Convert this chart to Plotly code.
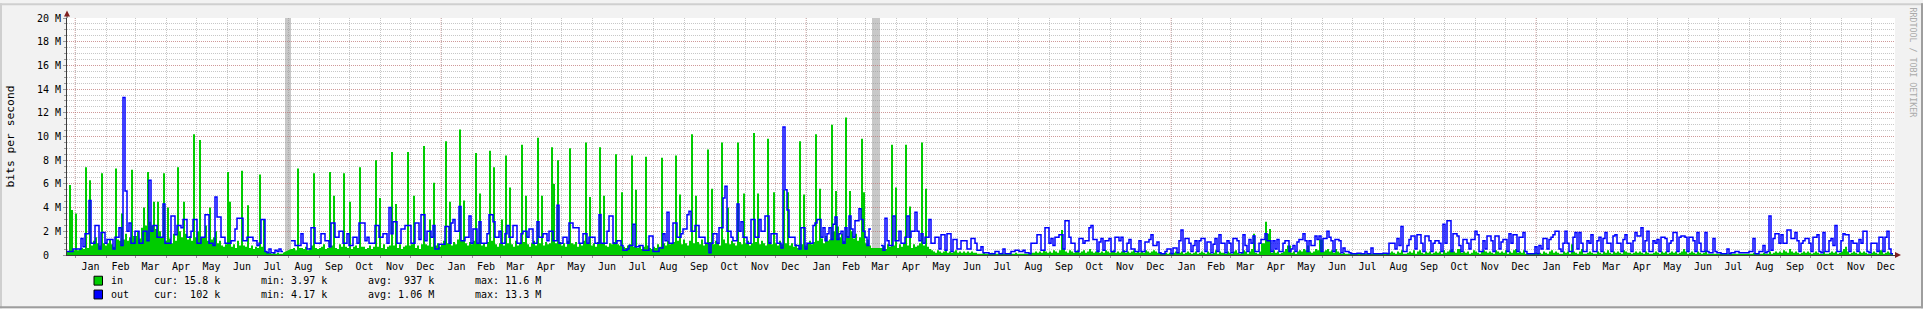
import pandas as pd
import plotly.graph_objects as go

# ---------------- data (values in Mbit/s, one value per 2-day step) ----------------
START = "2007-12-24"
END = "2012-12-25"
STEP = "2D"

in_seg1 = [
    0.3, 5.9, 3.8, 0.4, 3.5, 0.4, 0.5, 0.6, 0.5, 7.4,
    0.6, 6.3, 0.8, 1.2, 1.5, 1.0, 0.8, 6.9, 1.0, 0.8,
    1.0, 1.3, 0.9, 0.7, 7.3, 1.3, 1.2, 3.5, 1.3, 1.8,
    1.2, 1.5, 7.2, 1.6, 1.6, 2.0, 1.4, 2.3, 4.0, 2.5,
    7.0, 2.8, 2.5, 4.5, 2.2, 4.5, 2.0, 1.5, 6.9, 1.2,
    4.0, 1.4, 1.0, 1.8, 1.2, 7.4, 2.0, 1.5, 4.5, 1.8,
    1.3, 1.6, 1.2, 10.2, 1.5, 2.0, 9.7, 1.5, 1.5, 2.5,
    1.2, 4.0, 1.3, 1.5, 2.0, 1.0, 1.2, 0.8, 0.7, 0.9,
    7.0, 4.5, 0.7, 0.9, 0.6, 1.2, 0.8, 7.1, 0.8, 0.7,
    4.2, 0.6, 0.8, 0.5, 0.7, 0.6, 6.8, 0.7, 3.0, 0.3,
    0.2, 0.2, 0.1, 0.2, 0.1, 0.2, 0.1, 0.1, 0.2, None,
    None, None, 0.5, 0.6, 0.4, 7.3, 0.6, 0.6, 0.5, 0.7,
    0.4, 0.6, 0.8, 6.9, 0.6, 0.5, 0.6, 0.7, 0.9, 0.5,
    0.6, 7.0, 0.8, 5.0, 0.6, 0.5, 0.9, 0.7, 6.9, 0.7,
    0.6, 4.5, 0.5, 0.7, 0.8, 0.6, 7.4, 0.7, 0.7, 0.5,
    0.6, 0.8, 0.5, 0.7, 8.0, 0.7, 4.8, 0.6, 0.9, 0.5,
    0.7, 0.8, 8.7, 0.8, 4.3, 0.6, 0.9, 0.5, 0.7, 0.8,
    8.7, 0.8, 0.9, 5.0, 0.6, 0.8, 0.5, 0.9, 9.2, 0.9,
    0.8, 3.0, 0.7,
]
out_seg1 = [
    0.3, 0.3, 0.3, 0.5, 0.5, 0.5, 0.5, 1.4, 0.7, 1.8,
    1.8, 4.6, 1.0, 1.0, 2.5, 2.5, 0.5, 1.9, 1.9, 1.0,
    1.3, 1.3, 1.3, 0.5, 1.5, 1.5, 2.3, 0.8, 13.3, 5.4,
    2.0, 2.7, 1.0, 1.0, 2.0, 2.0, 1.0, 1.0, 2.0, 2.0,
    1.2, 6.3, 2.0, 2.5, 2.5, 1.5, 1.5, 1.5, 4.3, 1.0,
    1.0, 1.0, 3.3, 3.3, 1.7, 2.5, 2.5, 2.3, 3.0, 3.0,
    1.5, 1.5, 2.0, 3.0, 3.0, 1.0, 1.0, 1.5, 1.5, 3.4,
    3.4, 1.0, 1.0, 0.8, 4.9, 3.2, 3.2, 1.5, 1.5, 1.0,
    1.0, 1.0, 1.2, 1.2, 2.2, 3.1, 3.1, 3.1, 1.2, 1.2,
    1.5, 1.5, 1.5, 1.2, 1.2, 0.8, 1.0, 3.0, 3.0, 0.3,
    0.2, 0.5, 0.2, 0.2, 0.4, 0.3, 0.5, 0.3, 0.3, None,
    None, None, 1.2, 1.2, 0.8, 0.8, 0.8, 1.8, 1.0, 1.0,
    0.5, 0.5, 2.3, 2.3, 1.0, 1.0, 1.0, 1.8, 1.8, 1.2,
    1.2, 0.7, 2.7, 2.7, 1.5, 1.5, 2.0, 2.0, 1.0, 1.0,
    1.8, 0.8, 0.8, 1.5, 1.5, 1.0, 2.7, 2.7, 2.7, 1.2,
    1.5, 1.0, 1.0, 1.0, 2.5, 2.5, 1.5, 1.5, 1.8, 1.8,
    1.0, 4.0, 1.8, 2.8, 2.8, 1.0, 1.0, 2.2, 2.2, 2.5,
    2.5, 2.5, 1.0, 1.0, 2.7, 2.7, 1.3, 3.4, 3.4, 1.2,
    2.0, 2.0, 1.5,
]

in_seg2 = [
    6.1, 0.8, 1.0, 0.7, 0.9, 1.2, 9.6, 1.0, 4.5, 0.8,
    1.1, 0.9, 1.3, 10.6, 1.2, 4.6, 1.0, 0.8, 1.1, 0.9,
    1.2, 8.6, 1.0, 5.2, 0.8, 1.0, 0.7, 1.1, 8.8, 1.2,
    7.4, 0.9, 0.7, 1.0, 3.0, 0.8, 8.4, 1.0, 5.7, 0.9,
    0.7, 1.2, 0.8, 1.0, 9.3, 1.1, 5.0, 0.9, 0.7, 1.0,
    1.2, 0.8, 9.9, 1.0, 5.0, 0.8, 1.1, 0.9, 1.0, 9.1,
    6.0, 1.0, 8.0, 1.1, 0.8, 1.0, 0.7, 1.2, 9.0, 1.0,
    0.9, 1.1, 0.7, 1.0, 0.8, 1.2, 9.5, 1.0, 4.9, 0.8,
    1.0, 0.7, 1.1, 9.1, 1.0, 5.0, 0.8, 0.7, 1.0, 0.9,
    1.1, 8.5, 0.9, 0.8, 5.3, 0.7, 0.6, 0.8, 0.9, 8.4,
    0.7, 5.5, 0.6, 0.8, 0.5, 0.7, 8.3, 0.8, 0.6, 0.5,
    0.7, 0.6, 0.9, 0.7, 8.2, 1.0, 0.8, 1.2, 0.9, 1.0,
    1.1, 8.4, 1.2, 5.1, 0.9, 1.3, 1.0, 0.8, 1.2, 10.2,
    1.0, 5.0, 1.1, 0.9, 1.3, 0.8, 1.0, 8.9, 1.1, 5.6,
    0.9, 1.2, 1.0, 0.8, 9.5, 1.3, 1.0, 4.0, 0.9, 1.2,
    1.0, 0.8, 9.5, 1.1, 0.9, 5.2, 1.0, 1.2, 0.8, 1.0,
    10.3, 1.1, 5.2, 0.9, 1.2, 1.0, 0.8, 9.8, 1.1, 0.9,
    5.3, 1.0, 0.8, 1.2, 0.9, 5.5, 1.0, 5.3, 0.8, 1.0,
    0.7, 0.9, 0.6,
]
out_seg2 = [
    2.5, 0.5, 0.5, 0.9, 0.9, 0.9, 2.4, 2.4, 1.0, 2.7,
    3.0, 2.0, 2.0, 4.1, 1.2, 1.2, 1.5, 1.5, 3.3, 1.0,
    2.2, 2.2, 1.0, 2.8, 1.0, 1.0, 1.0, 1.8, 3.4, 3.4,
    2.8, 1.5, 1.5, 2.0, 1.0, 1.0, 1.8, 2.5, 1.5, 1.5,
    2.5, 2.5, 1.0, 1.0, 1.8, 2.0, 2.0, 1.5, 2.2, 2.2,
    1.0, 1.0, 2.8, 1.5, 1.5, 1.8, 1.8, 1.2, 2.0, 2.0,
    1.2, 1.2, 4.2, 1.0, 1.0, 1.5, 1.5, 1.0, 2.7, 2.7,
    2.3, 2.3, 2.3, 1.0, 1.0, 1.8, 1.8, 1.0, 1.5, 1.5,
    1.5, 1.0, 1.0, 3.4, 1.0, 1.0, 1.0, 2.0, 3.3, 3.3,
    1.0, 1.0, 1.2, 1.2, 0.8, 0.4, 0.4, 0.5, 0.8, 0.8,
    2.6, 0.7, 0.7, 0.8, 0.8, 0.4, 0.4, 0.4, 1.6, 1.6,
    0.3, 0.3, 0.3, 0.6, 0.6, 1.8, 1.2, 3.6, 1.0, 1.0,
    2.7, 2.7, 1.5, 1.5, 1.8, 2.2, 2.2, 3.4, 3.7, 2.0,
    2.0, 2.5, 2.5, 1.5, 1.5, 1.5, 1.0, 1.0, 0.2, 1.0,
    1.8, 1.8, 1.0, 2.3, 2.3, 4.8, 5.8, 2.0, 2.0, 1.5,
    1.2, 1.2, 4.3, 2.0, 2.8, 1.5, 1.5, 1.0, 1.0, 3.0,
    3.0, 1.5, 1.5, 3.0, 2.0, 2.0, 3.3, 3.3, 1.0, 1.8,
    1.8, 1.8, 1.0, 1.0, 0.6, 10.8, 5.5, 3.8, 1.5, 1.5,
    1.5, 0.8, 0.8,
]

in_seg3 = [
    9.6, 0.9, 5.1, 0.8, 1.0, 1.2, 0.9, 1.1, 10.2, 1.2,
    5.6, 1.4, 1.0, 1.6, 1.2, 1.3, 11.0, 2.0, 5.4, 2.4,
    1.5, 1.8, 1.2, 11.6, 1.6, 5.4, 2.0, 1.4, 1.8, 1.2,
    1.5, 9.8, 5.3, 1.0, 1.3, 0.8, 0.6, None, None, None,
    None, 0.6, 0.8, 0.5, 0.9, 0.7, 9.3, 0.8, 5.7, 0.6,
    0.9, 0.7, 1.0, 9.3, 0.8, 4.1, 0.6, 0.9, 0.7, 0.8,
    1.0, 9.5, 0.8, 5.6, 0.7, 0.5, 0.4, 0.3, 0.2, 0.4,
    0.3, 0.2, 0.3, 0.4, 0.2, 0.3, 0.2, 0.3, 0.4, 0.2,
    0.3, 0.2, 0.3, 0.2, 0.3, 0.2, 0.3, 0.2, 0.2, 0.1,
    0.1, 0.1, 0.2, 0.1, 0.1, 0.1, 0.2, 0.1, 0.1, 0.1,
    0.1, 0.2, 0.1, 0.1, 0.1, 0.2, 0.1, 0.1, 0.2, 0.1,
    0.1, 0.1, 0.1, 0.1, 0.1, 0.1, 0.2, 0.2, 0.3, 0.2,
    0.3, 0.2, 0.4, 0.3, 0.2, 0.3, 0.2, 0.4, 0.3, 0.2,
    0.4, 2.1, 0.5, 0.3, 0.2, 0.4, 0.3, 0.2, 0.3, 0.4,
    0.2, 0.3, 0.4, 0.2, 0.3, 0.5, 0.3, 0.2, 0.3, 0.4,
    0.2, 0.3, 0.2, 0.4, 0.3, 0.2, 0.3, 0.4, 0.2, 0.3,
    0.2, 0.3, 0.4, 0.2, 0.3, 0.2, 0.3, 0.4, 0.2, 0.3,
    0.2, 0.3, 0.2, 0.4, 0.3, 0.2, 0.3, 0.4, 0.3, 0.2,
    0.2, 0.1, 0.1,
]
out_seg3 = [
    0.5, 2.3, 2.3, 0.5, 1.0, 1.0, 1.0, 2.5, 2.7, 3.0,
    3.0, 1.5, 2.3, 1.2, 1.8, 2.3, 1.3, 2.6, 3.2, 1.3,
    1.8, 2.0, 1.0, 2.3, 1.5, 3.3, 2.2, 1.5, 2.9, 2.9,
    3.9, 3.0, 2.0, 1.5, 0.8, 2.2, 2.2, None, None, None,
    None, 0.8, 0.4, 3.1, 1.2, 0.8, 0.8, 3.3, 1.2, 1.2,
    2.0, 1.0, 1.0, 1.5, 3.3, 1.5, 2.0, 2.0, 3.6, 2.0,
    1.2, 1.8, 1.0, 1.5, 1.5, 3.0, 1.0, 1.0, 1.5, 1.5,
    0.5, 1.7, 1.7, 0.4, 1.8, 1.8, 0.3, 1.3, 1.3, 0.5,
    0.5, 1.2, 1.2, 1.2, 0.5, 0.5, 1.4, 1.4, 1.0, 0.4,
    0.4, 0.7, 0.2, 0.2, 0.2, 0.1, 0.1, 0.1, 0.3, 0.3,
    0.1, 0.1, 0.5, 0.1, 0.1, 0.1, 0.3, 0.3, 0.4, 0.4,
    0.3, 0.3, 0.4, 0.2, 0.2, 0.1, 1.0, 1.0, 1.0, 1.7,
    1.7, 0.4, 0.4, 2.3, 2.3, 1.0, 1.4, 0.8, 1.5, 1.5,
    1.7, 1.7, 0.5, 2.9, 2.9, 1.5, 1.0, 1.0, 0.3, 0.3,
    1.4, 1.4, 1.0, 1.2, 1.2, 2.3, 2.5, 1.3, 1.3, 0.3,
    1.1, 1.4, 0.4, 1.2, 1.2, 1.4, 0.3, 0.3, 1.5, 1.5,
    1.2, 1.5, 0.3, 0.3, 1.0, 1.3, 0.5, 0.5, 0.3, 0.3,
    1.2, 0.3, 0.3, 1.1, 1.1, 1.3, 1.7, 0.8, 0.8, 1.1,
    0.2, 0.1, 0.1,
]

in_seg4 = [
    0.2, 0.1, 0.2, 0.1, 0.2, 0.3, 0.2, 0.2, 0.3, 0.1,
    0.2, 0.3, 0.2, 0.1, 0.2, 0.3, 0.1, 0.2, 0.3, 0.2,
    0.1, 0.3, 0.2, 0.1, 0.2, 0.4, 0.1, 0.3, 0.2, 0.2,
    0.1, 0.3, 0.2, 0.1, 0.3, 0.4, 0.2, 0.1, 0.2, 0.4,
    0.3, 0.1, 0.3, 0.5, 1.8, 0.2, 0.1, 0.3, 1.0, 1.0,
    2.8, 1.8, 2.2, 0.2, 0.4, 0.2, 0.3, 0.1, 0.2, 0.3,
    0.5, 0.8, 0.8, 0.2, 0.3, 0.1, 0.3, 0.4, 0.3, 0.5,
    0.4, 0.8, 0.3, 0.2, 0.3, 0.5, 0.4, 1.3, 1.3, 0.3,
    0.4, 0.5, 0.3, 0.4, 0.2, 0.5, 0.3, 0.2, 0.1, 0.2,
    0.1, 0.1, 0.1, 0.1, 0.1, 0.1, 0.1, 0.1, 0.1, 0.1,
    0.1, 0.1, 0.1, 0.1, 0.1, 0.1, 0.1, 0.1, 0.1, 0.1,
    0.1, 0.1, 0.2, 0.3, 0.2, 0.1, 0.3, 0.2, 0.4, 0.1,
    0.1, 0.2, 0.3, 0.2, 0.4, 0.1, 0.3, 0.4, 0.2, 0.1,
    0.3, 0.2, 0.3, 0.1, 0.2, 0.3, 0.2, 0.3, 0.1, 0.4,
    0.2, 0.3, 0.4, 0.5, 0.3, 0.2, 0.5, 0.5, 0.2, 0.3,
    0.2, 0.3, 0.1, 0.2, 0.4, 0.3, 0.2, 0.1, 0.3, 0.4,
    0.3, 0.2, 0.3, 0.2, 0.1, 0.4, 0.3, 0.2, 0.3, 0.2,
    0.4, 0.1, 0.3, 0.2, 0.4, 0.5, 0.2, 0.3, 0.2, 0.4,
    0.1, 0.1, 0.1,
]
out_seg4 = [
    0.3, 0.5, 0.5, 0.1, 0.6, 0.6, 0.2, 1.2, 2.1, 0.3,
    1.4, 1.4, 1.0, 0.3, 0.8, 1.2, 0.3, 1.2, 1.4, 1.4,
    0.3, 1.1, 1.1, 0.2, 0.9, 1.4, 0.3, 1.7, 1.0, 1.0,
    0.2, 1.2, 1.0, 0.2, 1.4, 1.4, 1.2, 0.2, 0.2, 1.7,
    0.8, 0.3, 1.3, 1.0, 1.6, 0.3, 0.3, 1.0, 1.3, 1.3,
    1.8, 1.2, 1.2, 0.3, 1.2, 0.5, 1.3, 0.3, 0.3, 1.0,
    1.2, 1.2, 0.3, 0.5, 0.8, 0.3, 1.1, 1.3, 1.3, 1.8,
    1.2, 0.3, 1.2, 0.8, 0.8, 1.6, 1.3, 1.6, 0.3, 1.4,
    1.4, 2.0, 1.5, 1.2, 0.3, 1.3, 1.3, 1.2, 0.2, 0.6,
    0.3, 0.3, 0.2, 0.1, 0.1, 0.1, 0.15, 0.15, 0.1, 0.1,
    0.3, 0.1, 0.1, 0.6, 0.1, 0.1, 0.1, 0.1, 0.1, 0.15,
    0.15, 0.1, 1.0, 1.0, 1.0, 0.5, 1.4, 0.8, 2.4, 0.3,
    0.3, 0.8, 1.3, 1.6, 1.6, 0.5, 1.7, 1.7, 1.0, 0.3,
    1.6, 1.6, 1.2, 0.3, 1.0, 1.2, 1.2, 1.0, 0.3, 2.6,
    1.0, 2.9, 2.9, 0.3, 1.8, 1.8, 1.6, 0.8, 0.3, 1.3,
    1.3, 1.0, 0.5, 1.3, 1.3, 2.0, 1.7, 0.3, 0.3, 1.2,
    0.5, 1.6, 1.6, 1.2, 0.3, 1.6, 1.6, 0.5, 1.1, 1.3,
    1.3, 0.3, 1.8, 1.0, 1.7, 1.7, 0.3, 1.5, 1.5, 1.9,
    0.3, 0.1, 0.1,
]

in_seg5 = [
    0.1, 0.1, 0.2, 0.1, 0.2, 0.1, 0.3, 0.2, 0.1, 0.3,
    0.4, 0.2, 0.3, 0.2, 0.1, 0.1, 0.3, 0.2, 0.3, 0.1,
    0.9, 0.3, 0.2, 0.1, 0.3, 0.5, 0.1, 0.1, 0.2, 0.3,
    0.2, 0.1, 0.1, 0.3, 0.2, 0.1, 0.3, 0.2, 0.4, 0.2,
    0.1, 0.3, 0.2, 0.3, 0.2, 0.1, 0.4, 0.3, 0.2, 0.2,
    0.1, 0.2, 0.3, 0.2, 0.3, 0.2, 0.1, 0.3, 0.2, 0.1,
    0.1, 0.2, 0.3, 0.2, 0.1, 0.3, 0.2, 0.3, 0.1, 0.2,
    0.3, 0.2, 0.3, 0.1, 0.2, 0.3, 0.5, 0.3, 0.1, 0.2,
    0.3, 0.2, 0.1, 0.3, 0.2, 0.1, 0.2, 0.4, 0.1, 0.1,
    0.1, 0.1, 0.1, 0.1, 0.1, 0.1, 0.1, 0.1, 0.1, 0.1,
    0.1, 0.1, 0.1, 0.1, 0.1, 0.1, 0.1, 0.1, 0.1, 0.1,
    0.1, 0.2, 0.1, 0.1, 0.1, 0.1, 0.2, 0.1, 0.1, 0.3,
    0.1, 0.2, 0.3, 0.2, 0.3, 0.2, 0.4, 0.3, 0.2, 0.5,
    0.3, 0.2, 0.3, 0.2, 0.1, 0.2, 0.3, 0.2, 0.3, 0.2,
    0.1, 0.2, 0.3, 0.2, 0.1, 0.1, 0.3, 0.1, 0.1, 0.2,
    0.3, 0.2, 0.3, 0.1, 0.2, 0.3, 0.5, 0.7, 0.3, 0.1,
    0.2, 0.3, 0.2, 0.1, 0.3, 0.2, 0.3, 0.2, 0.1, 0.1,
    0.2, 0.3, 0.2, 0.1, 0.4, 0.4, 0.1, 0.2, 0.3, 0.2,
    0.1, 0.1,
]
out_seg5 = [
    0.1, 0.1, 0.7, 0.1, 0.8, 0.5, 1.4, 1.4, 0.5, 1.3,
    1.5, 1.7, 2.0, 2.0, 0.5, 0.3, 1.0, 2.0, 1.0, 0.3,
    0.3, 1.5, 1.9, 0.5, 1.9, 1.0, 0.3, 0.3, 1.2, 1.0,
    1.7, 0.3, 0.3, 1.2, 1.5, 0.3, 1.4, 1.9, 1.0, 1.0,
    0.3, 1.6, 1.7, 1.0, 1.0, 0.3, 1.3, 1.7, 1.0, 1.0,
    0.3, 1.2, 1.9, 1.6, 1.6, 2.3, 0.3, 1.2, 2.0, 0.3,
    0.3, 1.2, 1.0, 1.3, 0.3, 1.5, 1.5, 1.4, 0.3, 1.0,
    1.2, 1.9, 1.9, 0.3, 1.5, 1.6, 1.6, 1.5, 0.3, 1.5,
    1.5, 1.2, 0.3, 1.9, 1.0, 0.3, 0.3, 1.9, 0.3, 0.2,
    0.2, 1.4, 0.3, 0.2, 0.2, 0.1, 0.1, 0.1, 0.5, 0.1,
    0.2, 0.2, 0.3, 0.3, 0.2, 0.2, 0.2, 0.2, 0.2, 0.3,
    0.3, 1.4, 0.1, 0.1, 0.3, 0.3, 0.8, 0.2, 0.3, 3.3,
    0.4, 1.4, 1.8, 1.8, 1.0, 1.7, 1.0, 1.0, 2.1, 2.1,
    1.4, 1.4, 1.9, 1.2, 0.3, 1.0, 1.2, 1.4, 1.4, 1.0,
    0.3, 1.5, 1.5, 1.7, 0.3, 0.2, 1.9, 0.3, 0.3, 1.2,
    1.4, 0.8, 2.5, 0.3, 0.3, 1.2, 1.8, 1.7, 1.7, 0.3,
    1.2, 1.0, 1.0, 0.3, 1.3, 1.0, 2.0, 2.0, 0.3, 0.2,
    1.0, 1.0, 1.0, 0.3, 1.5, 1.5, 0.3, 1.5, 2.0, 0.5,
    0.1, 0.1,
]

# unknown-data periods (drawn as grey bands)
gap_start = ["2008-07-29", "2010-03-08"]
gap_end = ["2008-08-04", "2010-03-16"]

# year boundaries (major vertical grid)
year_starts = ["2008-01-01", "2009-01-01", "2010-01-01", "2011-01-01", "2012-01-01"]

# y axis ticks
y_ticks = [0, 2, 4, 6, 8, 10, 12, 14, 16, 18, 20]
y_labels = ["0\u00a0\u00a0", "2 M", "4 M", "6 M", "8 M", "10 M", "12 M", "14 M", "16 M", "18 M", "20 M"]

# legend text
legend_names = ["in", "out"]
legend_colors = ["#00CC00", "#0000FF"]
legend_cur = ["15.8 k", "\u00a0102 k"]
legend_min = ["3.97 k", "4.17 k"]
legend_avg = ["\u00a0937 k", "1.06 M"]
legend_max = ["11.6 M", "13.3 M"]

# ---------------- build ----------------
in_vals = in_seg1 + in_seg2 + in_seg3 + in_seg4 + in_seg5
out_vals = out_seg1 + out_seg2 + out_seg3 + out_seg4 + out_seg5
dates = pd.date_range(START, periods=len(in_vals), freq=STEP)

W, H = 1923, 309
L, R, T, B = 67, 28, 15, 54
PW, PH = W - L - R, H - T - B


def px(x):
    return (x - L) / PW


def py(y):
    return (T + PH - y) / PH


FONT = "DejaVu Sans Mono"
GRID = "rgba(143,143,143,0.5)"
MGRID = "rgba(222,79,79,0.38)"
DOTS = "1px,1px"

fig = go.Figure()
fig.add_trace(go.Scatter(
    x=dates, y=in_vals, mode="lines", name="in",
    line=dict(color="#00CC00", width=0, shape="hv"),
    fill="tozeroy", fillcolor="#00CC00", connectgaps=False, hoverinfo="skip",
))
fig.add_trace(go.Scatter(
    x=dates, y=out_vals, mode="lines", name="out",
    line=dict(color="#0000FF", width=1.5, shape="hv"),
    connectgaps=False, hoverinfo="skip",
))

shapes = []
for d in year_starts:
    shapes.append(dict(type="line", xref="x", yref="paper", x0=d, x1=d, y0=0, y1=1,
                       line=dict(color=MGRID, width=1, dash=DOTS), layer="between"))
for s, e in zip(gap_start, gap_end):
    shapes.append(dict(type="rect", xref="x", yref="paper", x0=s, x1=e, y0=0, y1=1,
                       fillcolor="#C8C8C8", line=dict(width=0), layer="between"))

# frame shading
shapes += [
    dict(type="rect", xref="paper", yref="paper", x0=px(0), x1=px(W), y0=py(0), y1=py(2),
         fillcolor="#CFCFCF", line=dict(width=0), layer="above"),
    dict(type="rect", xref="paper", yref="paper", x0=px(0), x1=px(2), y0=py(0), y1=py(H),
         fillcolor="#CFCFCF", line=dict(width=0), layer="above"),
    dict(type="rect", xref="paper", yref="paper", x0=px(W - 2), x1=px(W), y0=py(0), y1=py(H),
         fillcolor="#9E9E9E", line=dict(width=0), layer="above"),
    dict(type="rect", xref="paper", yref="paper", x0=px(0), x1=px(W), y0=py(H - 2), y1=py(H),
         fillcolor="#9E9E9E", line=dict(width=0), layer="above"),
]
# axis extensions and arrows
shapes += [
    dict(type="line", xref="paper", yref="paper", x0=0, x1=0, y0=1, y1=py(11),
         line=dict(color="#3C3C3C", width=1), layer="above"),
    dict(type="line", xref="paper", yref="paper", x0=1, x1=px(1897), y0=0, y1=0,
         line=dict(color="#3C3C3C", width=1), layer="above"),
    dict(type="path", xref="paper", yref="paper",
         path=f"M {px(67)},{py(7.5)} L {px(64)},{py(13.5)} L {px(70)},{py(13.5)} Z",
         fillcolor="#801F1F", line=dict(width=0), layer="above"),
    dict(type="path", xref="paper", yref="paper",
         path=f"M {px(1901)},{py(255)} L {px(1895)},{py(252)} L {px(1895)},{py(258)} Z",
         fillcolor="#801F1F", line=dict(width=0), layer="above"),
]

annotations = []
row_y = [281, 295]
for i in range(2):
    yc = row_y[i]
    shapes.append(dict(type="rect", xref="paper", yref="paper",
                       x0=px(94), x1=px(102.5), y0=py(yc - 4.5), y1=py(yc + 4.5),
                       fillcolor=legend_colors[i], line=dict(color="#000000", width=1), layer="above"))
    fields = [
        (110, legend_names[i]),
        (153, "cur: " + legend_cur[i]),
        (259.5, "min: " + legend_min[i]),
        (366.5, "avg: " + legend_avg[i]),
        (473.5, "max: " + legend_max[i]),
    ]
    for xpix, txt in fields:
        annotations.append(dict(xref="paper", yref="paper", x=px(xpix), y=py(yc),
                                text=txt, showarrow=False, xanchor="left", yanchor="middle",
                                font=dict(family=FONT, size=10, color="#000000"), borderpad=0))

annotations.append(dict(xref="paper", yref="paper", x=px(10), y=py(135), text="bits per second",
                        textangle=-90, showarrow=False, xanchor="center", yanchor="middle",
                        font=dict(family=FONT, size=11.3, color="#000000")))
annotations.append(dict(xref="paper", yref="paper", x=px(1913), y=py(60), text="RRDTOOL / TOBI OETIKER",
                        textangle=90, showarrow=False, xanchor="center", yanchor="middle",
                        font=dict(family=FONT, size=8.3, color="#AAAAAA")))

fig.update_layout(
    width=W, height=H,
    margin=dict(l=L, r=R, t=T, b=B, pad=0),
    paper_bgcolor="#F2F2F2", plot_bgcolor="#FFFFFF",
    showlegend=False,
    font=dict(family=FONT, size=10, color="#000000"),
    shapes=shapes, annotations=annotations,
)
fig.update_xaxes(
    type="date", range=[START, END],
    dtick="M1", tick0="2007-12-01", ticklabelmode="period", tickformat="%b",
    showgrid=True, gridcolor=GRID, griddash=DOTS, gridwidth=1,
    ticks="outside", ticklen=2, tickcolor="#999999",
    showline=True, linecolor="#3C3C3C", linewidth=1, zeroline=False,
    tickfont=dict(family=FONT, size=10, color="#000000"),
)
fig.update_yaxes(
    range=[0, 20], tickmode="array", tickvals=y_ticks, ticktext=y_labels,
    showgrid=True, gridcolor=MGRID, griddash=DOTS, gridwidth=1,
    minor=dict(dtick=0.5, tick0=0, showgrid=True, gridcolor=GRID, griddash=DOTS,
               ticks="outside", ticklen=2, tickcolor="#999999"),
    ticks="outside", ticklen=3, tickcolor="#999999",
    showline=True, linecolor="#3C3C3C", linewidth=1, zeroline=False,
    tickfont=dict(family=FONT, size=10, color="#000000"),
)

fig.write_html("out.html", config={"displayModeBar": False})
